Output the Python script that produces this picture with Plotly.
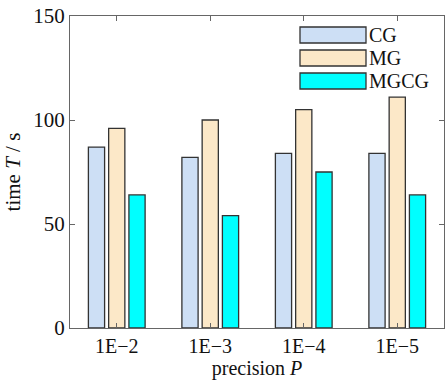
import plotly.graph_objects as go

categories = ["1E−2", "1E−3", "1E−4", "1E−5"]
series_names = ["CG", "MG", "MGCG"]
cg = [87, 82, 84, 84]
mg = [96, 100, 105, 111]
mgcg = [64, 54, 75, 64]
colors = ["#cddff5", "#fce8c8", "#00ffff"]

fig = go.Figure()
for name, vals, c in zip(series_names, [cg, mg, mgcg], colors):
    fig.add_trace(go.Bar(x=categories, y=vals, name=name, marker=dict(color=c, line=dict(color="#333333", width=1.3)), showlegend=False))

font = "Liberation Serif"
fig.update_layout(
    width=446, height=381,
    margin=dict(l=70, r=2, t=16, b=53),
    plot_bgcolor="white", paper_bgcolor="white",
    barmode="group", bargap=0.35, bargroupgap=0.2,
    font=dict(family=font, size=20, color="#111111"),
)
fig.update_xaxes(showline=True, linecolor="#666666", linewidth=1.3, mirror="ticks",
                 ticks="inside", ticklen=5, tickcolor="#666666",
                 title=dict(text="precision <i>P</i>", standoff=0, font=dict(size=20)), tickfont=dict(size=20))
fig.update_yaxes(range=[0, 150], tickvals=[0, 50, 100, 150], showline=True, linecolor="#666666",
                 linewidth=1.3, mirror="ticks", ticks="inside", ticklen=5, tickcolor="#666666",
                 showgrid=False, zeroline=False,
                 title=dict(text="time <i>T</i> / s", standoff=6, font=dict(size=21)), tickfont=dict(size=21))

# legend drawn as boxes in paper coords
W, H = 446, 381
pl, pb = 70, 53
pw, ph = W - 70 - 2, H - 16 - 53
def px(x): return (x - pl) / pw
def py(y): return (H - pb - y) / ph
tops = [27, 50, 73]
for name, c, t in zip(series_names, colors, tops):
    fig.add_shape(type="rect", xref="paper", yref="paper", x0=px(300), x1=px(366), y0=py(t + 16), y1=py(t),
                  fillcolor=c, line=dict(color="#333333", width=1.3))
    fig.add_annotation(xref="paper", yref="paper", x=px(367), y=py(t + 8), text=name, showarrow=False,
                       xanchor="left", yanchor="middle", font=dict(size=20, family=font, color="#111111"))

fig.write_html("out.html")
